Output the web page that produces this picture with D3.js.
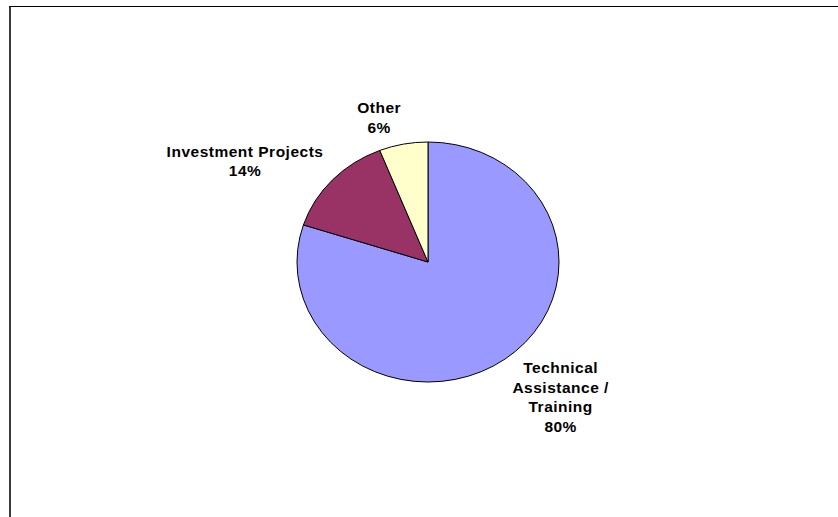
<!DOCTYPE html>
<html>
<head>
<meta charset="utf-8">
<script src="https://cdn.jsdelivr.net/npm/d3@7/dist/d3.min.js"></script>
<style>
  html, body { margin: 0; padding: 0; background: #fff; }
  svg { display: block; }
  text { font-family: "Liberation Sans", Arial, sans-serif; font-weight: bold; font-size: 15.5px; letter-spacing: 0.5px; fill: #000; }
</style>
</head>
<body>
<svg id="chart" width="838" height="517"></svg>
<script>
// Share of funding by type of activity
const categories = ["Technical\nAssistance /\nTraining", "Investment Projects", "Other"];
const values = [80, 14, 6];
const colors = ["#9999FF", "#993366", "#FFFFCC"];

const W = 838, H = 517;
const cx = 428, cy = 262;
const ry = 120, rx = 131;          // the plot is drawn slightly wider than tall
const sx = rx / ry;
const fontSize = 15.5;
const capH = fontSize * 0.7;
const lineH = 19.7;
const kx = 1.095, ky = 1.10;        // label anchor radius relative to the pie

const svg = d3.select("#chart");

// chart area frame (right and bottom edges run off the page)
svg.append("line").attr("x1", 10).attr("y1", 6).attr("x2", 10).attr("y2", H)
  .attr("stroke", "#3a3a3a").attr("stroke-width", 2);
svg.append("line").attr("x1", 9).attr("y1", 6.5).attr("x2", W).attr("y2", 6.5)
  .attr("stroke", "#000").attr("stroke-width", 1);

const total = d3.sum(values);
const pct = d3.format(".0%");

const pie = d3.pie().sort(null).value(d => d.value);
const arcs = pie(categories.map((c, i) => ({ name: c, value: values[i], color: colors[i] })));
const arc = d3.arc().innerRadius(0).outerRadius(ry);

const g = svg.append("g").attr("transform", `translate(${cx},${cy}) scale(${sx},1)`);
g.selectAll("path").data(arcs).join("path")
  .attr("d", arc)
  .attr("fill", d => d.data.color)
  .attr("stroke", "#000")
  .attr("stroke-width", 1)
  .attr("vector-effect", "non-scaling-stroke");

// labels sit outside each slice, pushed away from the pie by their own size
const labels = svg.append("g");
arcs.forEach(d => {
  const a = (d.startAngle + d.endAngle) / 2;
  const s = Math.sin(a), c = Math.cos(a);
  const lines = d.data.name.split("\n").concat([pct(d.value / total)]);
  const t = labels.append("text").attr("text-anchor", "middle");
  lines.forEach((ln, i) => {
    t.append("tspan").attr("x", 0).attr("y", i * lineH).text(ln);
  });
  const w = t.node().getBBox().width;
  const h = capH + (lines.length - 1) * lineH;     // cap top of first line to baseline of last
  const mx = cx + rx * kx * s + Math.sign(s) * w / 2;
  const my = cy - ry * ky * c - c * h / 2;
  t.attr("transform", `translate(${mx},${my - h / 2 + capH})`);
});
</script>
</body>
</html>
